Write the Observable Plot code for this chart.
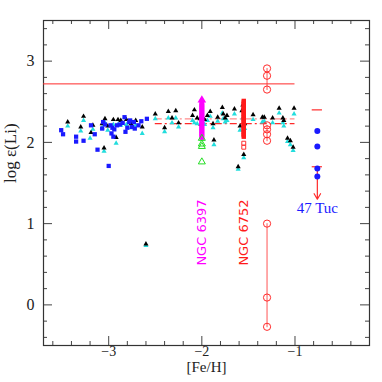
<!DOCTYPE html>
<html><head><meta charset="utf-8">
<script src="https://cdn.jsdelivr.net/npm/d3@7"></script>
<script src="https://cdn.jsdelivr.net/npm/@observablehq/plot@0.6"></script>
<style>html,body{margin:0;padding:0;background:#fff;}</style>
</head><body><div id="chart"></div>
<script>
// ---- data ----
const blueSquares = [[-3.51,2.15],[-3.49,2.10],[-3.35,2.07],[-3.35,2.01],[-3.27,2.02],[-3.19,2.21],[-3.15,2.10],[-3.12,1.91],[-3.07,2.17],[-3.06,2.25],[-3.04,2.22],[-3.00,1.71],[-2.98,2.21],[-2.96,2.18],[-2.97,2.11],[-2.95,2.07],[-2.94,2.16],[-2.91,2.21],[-2.88,2.22],[-2.85,2.24],[-2.83,2.31],[-2.82,2.13],[-2.80,2.18],[-2.78,2.25],[-2.77,2.27],[-2.75,2.19],[-2.73,2.25],[-2.72,2.17],[-2.68,2.21],[-2.65,2.26],[-2.59,2.29]];
const blackTriangles = [[-3.44,2.25],[-3.30,2.19],[-3.27,2.32],[-3.19,2.12],[-3.17,2.21],[-3.07,2.23],[-3.04,2.29],[-3.05,1.93],[-3.01,2.20],[-2.95,2.28],[-2.92,2.06],[-2.90,2.28],[-2.87,2.27],[-2.81,2.28],[-2.76,2.23],[-2.71,2.27],[-2.64,2.19],[-2.60,0.75],[-2.50,2.35],[-2.40,2.18],[-2.36,2.38],[-2.32,2.30],[-2.28,2.39],[-2.25,2.24],[-2.10,2.33],[-2.08,2.40],[-2.05,2.30],[-2.02,2.29],[-2.01,2.22],[-1.97,2.28],[-1.94,2.33],[-1.91,2.38],[-1.88,2.23],[-1.87,2.03],[-1.83,2.31],[-1.78,2.43],[-1.77,2.35],[-1.75,2.30],[-1.73,2.33],[-1.65,2.41],[-1.61,1.70],[-1.59,2.20],[-1.56,2.46],[-1.57,2.39],[-1.55,1.85],[-1.54,2.23],[-1.45,2.34],[-1.35,2.31],[-1.33,2.31],[-1.24,2.30],[-1.17,2.42],[-1.13,2.30],[-1.12,2.27],[-1.08,2.05],[-1.05,2.02],[-1.02,1.94],[-1.01,2.42]];
const cyanTriangles = [[-3.44,2.20],[-3.30,2.14],[-3.27,2.27],[-3.20,2.05],[-3.17,2.16],[-3.07,2.18],[-3.04,2.24],[-3.05,1.89],[-3.01,2.15],[-2.95,2.22],[-2.92,1.99],[-2.90,2.22],[-2.87,2.21],[-2.81,2.22],[-2.76,2.18],[-2.71,2.21],[-2.64,2.11],[-2.60,0.73],[-2.50,2.29],[-2.40,2.13],[-2.36,2.30],[-2.32,2.24],[-2.28,2.30],[-2.25,2.19],[-2.10,2.27],[-2.08,2.24],[-2.05,2.23],[-1.97,2.22],[-1.94,2.27],[-1.91,2.32],[-1.88,2.18],[-1.87,1.97],[-1.83,2.26],[-1.78,2.36],[-1.77,2.29],[-1.75,2.25],[-1.73,2.27],[-1.65,2.35],[-1.61,1.67],[-1.59,2.15],[-1.56,2.30],[-1.55,1.81],[-1.54,2.17],[-1.45,2.28],[-1.35,2.25],[-1.33,2.26],[-1.24,2.24],[-1.17,2.36],[-1.13,2.24],[-1.12,2.20],[-1.08,2.01],[-1.05,1.97],[-1.02,1.90],[-1.01,2.35]];
const ngc6397Fe = -2.0;
const ngc6397Li = [2.06,2.08,2.10,2.12,2.14,2.16,2.18,2.20,2.22,2.24,2.26,2.28,2.30,2.32,2.34,2.36,2.38,2.40,2.42,2.44,2.46,2.48];
const ngc6397Upper = [2.52];
const ngc6397Green = [2.05,1.98,1.95,1.76];
const ngc6752Fe = -1.55;
const ngc6752Li = [2.07,2.09,2.11,2.13,2.15,2.17,2.19,2.21,2.23,2.25,2.27,2.29,2.31,2.33,2.35,2.37,2.39,2.41,2.43,2.45,2.47,2.49,2.51];
const ngc6752Open = [1.99,1.94];
const circleFe = -1.30;
const circleGroups = [[2.91,2.82,2.65],[2.21,2.16,2.10,2.02],[1.00,0.09,-0.27]];
const tuc47Fe = -0.76;
const tuc47Li = [2.14,1.95,1.68,1.58];
const tuc47Limits = [2.40,1.70];
const tuc47Arrow = [{y1:1.70, y2:1.30}];
const meteoriticLine = [{y:2.72, x1:-3.7, x2:-1.0}];
const plateauLines = [{y:2.29, x1:-2.5, x2:-1.0, c:"#ff8c8c"},{y:2.23, x1:-2.5, x2:-1.0, c:"#ff2a2a"}];
const labels = [{x:-2.0, y:0.89, t:"NGC 6397", c:"#ff00ff"},{x:-1.55, y:0.89, t:"NGC 6752", c:"#ff1a1a"}];
const tucLabel = [{x:-0.76, y:1.19, t:"47 Tuc"}];
const xTickLabels = [-3,-2,-1];
const yTickLabels = [0,1,2,3];
const xLabel = "[Fe/H]";
const yLabel = "log \u03b5(Li)";

// ---- layout ----
const W = 382, H = 382, mL = 43, mR = 13, mT = 20, mB = 37;
const fw = W - mL - mR, fh = H - mT - mB;
const minorX = d3.range(-3.6, -0.3, 0.2).filter(v => Math.abs(v - Math.round(v)) > 0.01);
const minorY = d3.range(-0.4, 3.45, 0.2).filter(v => Math.abs(v - Math.round(v)) > 0.01);
const fmt = d => d < 0 ? "\u2212" + (-d) : String(d);
const red = "#ff2a2a";
const serif = "Liberation Serif, DejaVu Serif, serif";

const plot = Plot.plot({
  width: W, height: H,
  marginLeft: mL, marginRight: mR, marginTop: mT, marginBottom: mB,
  x: {domain: [-3.7, -0.2], axis: null},
  y: {domain: [-0.5, 3.5], axis: null},
  style: {fontFamily: serif, fontSize: "14px", background: "#fff"},
  marks: [
    // ticks (inward, all four sides)
    Plot.tickX(minorX, {x: d => d, insetTop: fh - 4, stroke: "#444"}),
    Plot.tickX(minorX, {x: d => d, insetBottom: fh - 4, stroke: "#444"}),
    Plot.tickX(xTickLabels, {x: d => d, insetTop: fh - 9, stroke: "#444"}),
    Plot.tickX(xTickLabels, {x: d => d, insetBottom: fh - 9, stroke: "#444"}),
    Plot.tickY(minorY, {y: d => d, insetRight: fw - 4, stroke: "#444"}),
    Plot.tickY(minorY, {y: d => d, insetLeft: fw - 4, stroke: "#444"}),
    Plot.tickY(yTickLabels, {y: d => d, insetRight: fw - 9, stroke: "#444"}),
    Plot.tickY(yTickLabels, {y: d => d, insetLeft: fw - 9, stroke: "#444"}),
    Plot.frame({stroke: "#333", strokeWidth: 1.2}),
    Plot.text(xTickLabels, {x: d => d, text: fmt, frameAnchor: "bottom", dy: 10, fill: "#222", fontSize: 14}),
    Plot.text(yTickLabels, {y: d => d, text: fmt, frameAnchor: "left", dx: -9, textAnchor: "end", fill: "#222", fontSize: 16}),
    Plot.text([xLabel], {text: d => d, frameAnchor: "bottom", dy: 26, fill: "#222", fontSize: 15}),
    Plot.text([yLabel], {text: d => d, frameAnchor: "left", dx: -33, rotate: -90, fill: "#222", fontSize: 17}),
    // reference lines
    Plot.ruleY(meteoriticLine, {y: "y", x1: "x1", x2: "x2", stroke: red, strokeWidth: 1}),
    Plot.ruleY(plateauLines, {y: "y", x1: "x1", x2: "x2", stroke: "c", strokeWidth: 1.2, strokeDasharray: "7,3,2,3"}),
    // field stars
    Plot.dot(cyanTriangles, {x: d => d[0], y: d => d[1], symbol: "triangle", r: 1.9, fill: "#22dddd"}),
    Plot.dot(blackTriangles, {x: d => d[0], y: d => d[1], symbol: "triangle", r: 1.9, fill: "#000"}),
    Plot.dot(blueSquares, {x: d => d[0], y: d => d[1], symbol: "square", r: 2.4, fill: "#1a1aff"}),
    // NGC 6397
    Plot.dot(ngc6397Li, {x: () => ngc6397Fe, y: d => d, symbol: "square", r: 2.7, fill: "#ff00ff"}),
    Plot.dot(ngc6397Upper, {x: () => ngc6397Fe, y: d => d, symbol: "triangle", r: 3.2, fill: "#ff00ff"}),
    Plot.dot(ngc6397Green, {x: () => ngc6397Fe, y: d => d, symbol: "triangle", r: 2.6, fill: "none", stroke: "#22dd22", strokeWidth: 1}),
    // NGC 6752
    Plot.dot(ngc6752Li, {x: () => ngc6752Fe, y: d => d, symbol: "square", r: 2.5, fill: "#ff1a1a"}),
    Plot.dot(ngc6752Open, {x: () => ngc6752Fe, y: d => d, symbol: "square", r: 2.2, fill: "none", stroke: "#ff3030", strokeWidth: 1}),
    // open circles with connecting segments
    ...circleGroups.map(g => Plot.line(g, {x: () => circleFe, y: d => d, stroke: red, strokeWidth: 1, strokeOpacity: 0.8})),
    Plot.dot(circleGroups.flat(), {x: () => circleFe, y: d => d, r: 3.6, fill: "none", stroke: red, strokeWidth: 1}),
    // 47 Tuc
    Plot.ruleY(tuc47Limits, {y: d => d, x1: tuc47Fe - 0.055, x2: tuc47Fe + 0.055, stroke: red, strokeWidth: 1.2}),
    Plot.arrow(tuc47Arrow, {x1: () => tuc47Fe, x2: () => tuc47Fe, y1: "y1", y2: "y2", stroke: red, strokeWidth: 1.2, headLength: 8}),
    Plot.dot(tuc47Li, {x: () => tuc47Fe, y: d => d, r: 3, fill: "#1a1aff"}),
    Plot.text(tucLabel, {x: "x", y: "y", text: "t", fill: "#1a1aff", fontSize: 15}),
    Plot.text(labels, {x: "x", y: "y", text: "t", fill: "c", rotate: -90, fontSize: 13, fontFamily: "DejaVu Sans, sans-serif"})
  ]
});
document.getElementById("chart").appendChild(plot);
</script>
</body></html>
